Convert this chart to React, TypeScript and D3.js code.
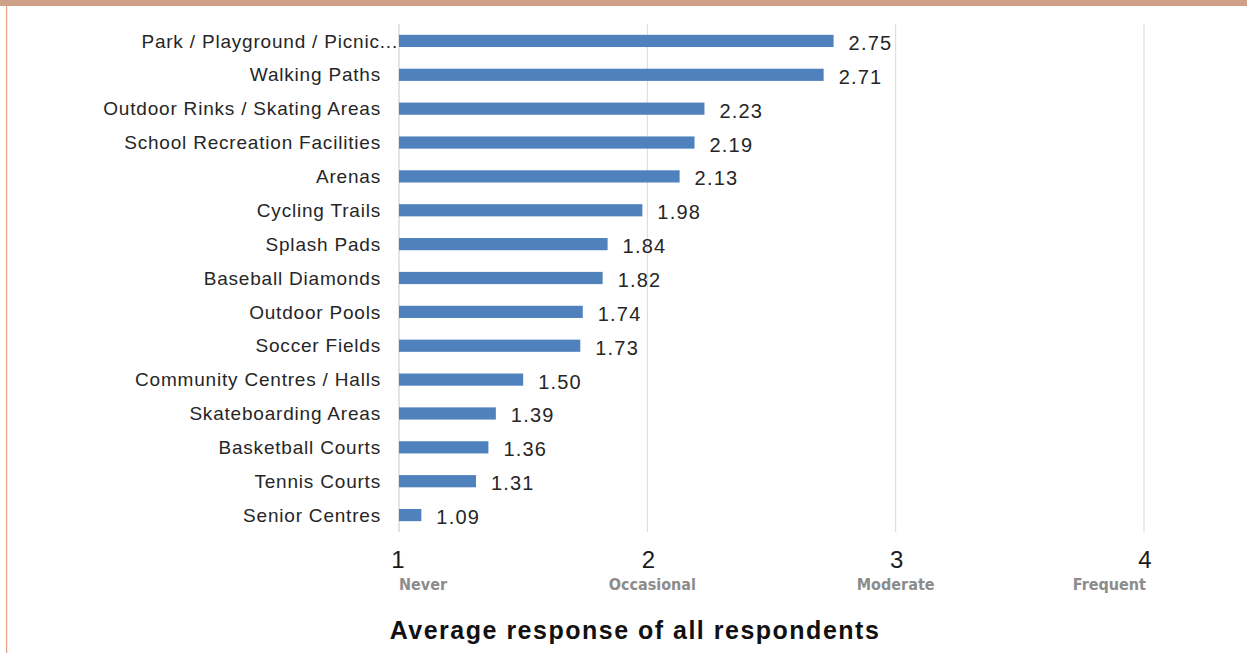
import React from "react";
import * as d3 from "d3";

const categories = [
  "Park / Playground / Picnic...",
  "Walking Paths",
  "Outdoor Rinks / Skating Areas",
  "School Recreation Facilities",
  "Arenas",
  "Cycling Trails",
  "Splash Pads",
  "Baseball Diamonds",
  "Outdoor Pools",
  "Soccer Fields",
  "Community Centres / Halls",
  "Skateboarding Areas",
  "Basketball Courts",
  "Tennis Courts",
  "Senior Centres",
];
const values = [2.75, 2.71, 2.23, 2.19, 2.13, 1.98, 1.84, 1.82, 1.74, 1.73, 1.5, 1.39, 1.36, 1.31, 1.09];
const ticks = [1, 2, 3, 4];
const tickNames = ["Never", "Occasional", "Moderate", "Frequent"];
const axisTitle = "Average response of all respondents";

const W = 1247;
const H = 653;
const SANS = "Liberation Sans, Arial, sans-serif";

export default function App() {
  const x = d3.scaleLinear().domain([1, 4]).range([399, 1144]);
  const y = d3.scaleBand<string>().domain(categories).range([24, 532]).paddingInner(0.64).paddingOuter(0.32);
  const bh = y.bandwidth();

  const subAnchor = ["start", "middle", "middle", "end"];
  const subDx = [0, 5, 0, 2];
  const tickDx = [-1, 1, 1, 1];

  return (
    <svg width={W} height={H} style={{ position: "absolute", left: 0, top: 0, background: "#fff" }}>
      <defs>
        <clipPath id="labelClip">
          <rect x={101} y={0} width={W} height={H} />
        </clipPath>
      </defs>
      <rect x={0} y={0} width={W} height={6} fill="#cfa088" />
      <rect x={6} y={6} width={1.2} height={H - 6} fill="#e2a283" />

      {ticks.slice(1).map((t) => (
        <line key={t} x1={x(t)} x2={x(t)} y1={24} y2={532} stroke="#d9d9d9" strokeWidth={1} />
      ))}
      <line x1={x(1)} x2={x(1)} y1={24} y2={532} stroke="#c8c8c8" strokeWidth={1} />

      <g clipPath="url(#labelClip)">
        {categories.map((c) => (
          <text
            key={c}
            x={381 + (c.endsWith("...") ? 17 : 0)}
            y={y(c)! + bh / 2}
            dy="0.35em"
            textAnchor="end"
            fontFamily={SANS}
            fontSize={19}
            letterSpacing={0.8}
            fill="#262626"
          >
            {c}
          </text>
        ))}
      </g>

      {categories.map((c, i) => (
        <g key={c}>
          <rect x={x(1)} y={y(c)!} width={x(values[i]) - x(1)} height={bh} fill="#4f81bd" />
          <text
            x={x(values[i]) + 15}
            y={y(c)! + bh / 2 + 2}
            dy="0.35em"
            fontFamily={SANS}
            fontSize={20}
            letterSpacing={1.2}
            fill="#262626"
          >
            {values[i].toFixed(2)}
          </text>
        </g>
      ))}

      {ticks.map((t, i) => (
        <g key={t}>
          <text
            x={x(t) + tickDx[i]}
            y={568}
            textAnchor="middle"
            fontFamily={SANS}
            fontSize={24}
            fill="#1a1a1a"
          >
            {t}
          </text>
          <text
            x={x(t) + subDx[i]}
            y={590}
            textAnchor={subAnchor[i]}
            fontFamily="DejaVu Sans Condensed, DejaVu Sans, sans-serif"
            fontWeight="bold"
            fontSize={16}
            fill="#8c8c8c"
          >
            {tickNames[i]}
          </text>
        </g>
      ))}

      <text
        x={635}
        y={639}
        textAnchor="middle"
        fontFamily={SANS}
        fontWeight="bold"
        fontSize={25}
        letterSpacing={1.5}
        fill="#111"
      >
        {axisTitle}
      </text>
    </svg>
  );
}
